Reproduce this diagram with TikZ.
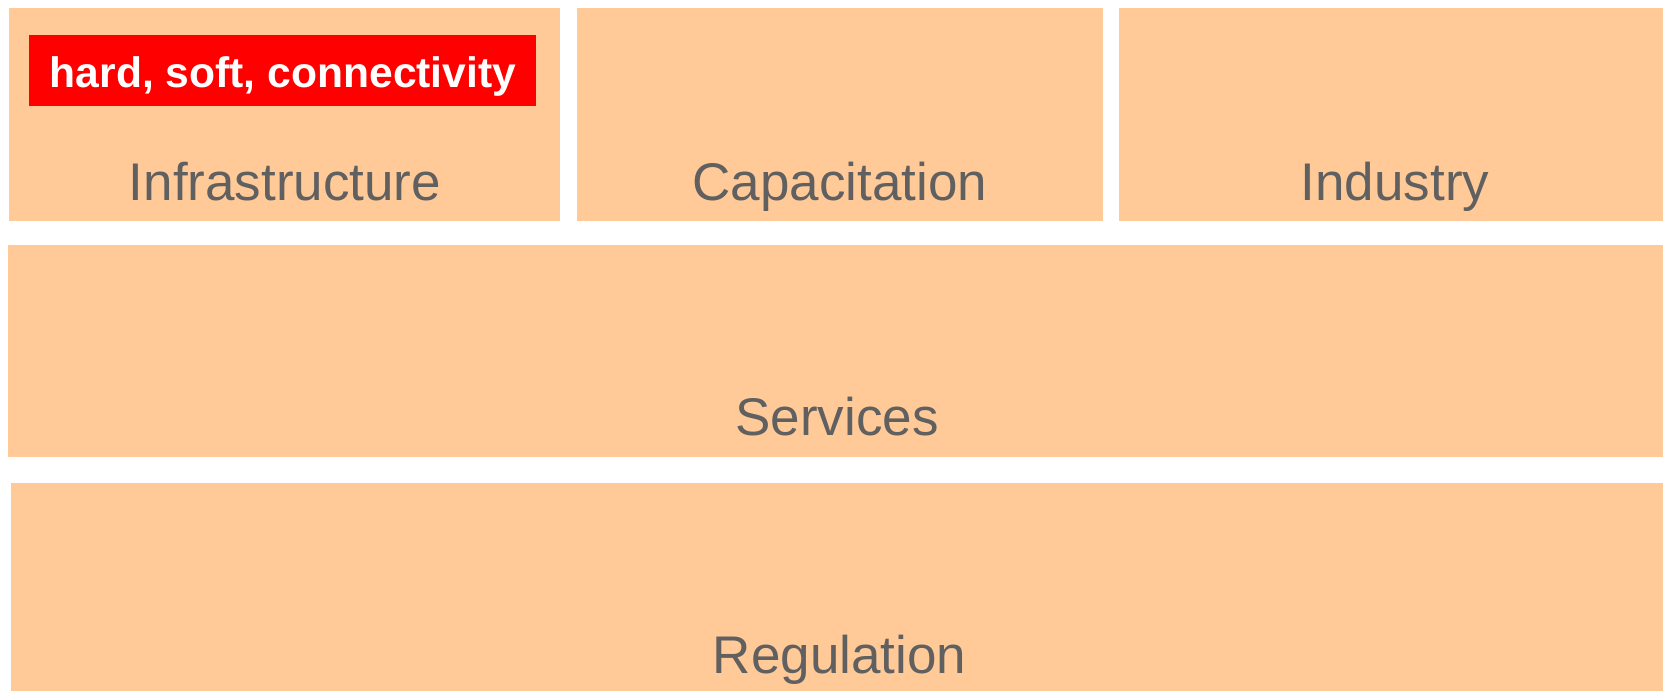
\documentclass[tikz,border=0pt]{standalone}
\usepackage{fontspec}
\setmainfont{Liberation Sans}
\definecolor{peach}{HTML}{FFCA98}
\definecolor{labelgray}{HTML}{606060}
\definecolor{tagred}{HTML}{FF0000}
\tikzset{
  tile/.style={fill=peach,inner sep=0pt,outer sep=0pt,anchor=north west},
  caption/.style={anchor=base,inner sep=0pt,text=labelgray,font=\fontsize{26.5pt}{30pt}\selectfont},
  tag/.style={fill=tagred,inner sep=0pt,outer sep=0pt,anchor=north west,minimum width=253.5pt,minimum height=35.5pt}
}
\begin{document}
\begin{tikzpicture}[x=0.5pt,y=-0.5pt]
    \useasboundingbox (0,0) rectangle (1663,690);
    \clip (0,0) rectangle (1663,690);

    \node[tile,minimum width=275.75pt,minimum height=106pt] (infra) at (8.5,8.5) {};
    \node[tile,minimum width=263pt,minimum height=106pt] (capa) at (577,8.5) {};
    \node[tile,minimum width=280pt,minimum height=106pt] (indus) at (1119,8.5) {};
    \node[tile,minimum width=836pt,minimum height=106pt] (serv) at (7.5,245) {};
    \node[tile,minimum width=835pt,minimum height=115pt] (regul) at (10.5,483) {};

    \node[tag] (hsc) at (29,35) {};
    \node[anchor=base,inner sep=0pt,text=white,font=\fontsize{21.3pt}{24pt}\selectfont\bfseries] (hsctext) at (283,87.5) {hard, soft, connectivity};

    \node[caption] (infratext) at (285,200.5) {Infrastructure};
    \node[caption] (capatext) at (840,200.5) {Capacitation};
    \node[caption] (industext) at (1395,200.5) {Industry};
    \node[caption] (servtext) at (837,435) {Services};
    \node[caption] (regultext) at (839.5,673) {Regulation};
\end{tikzpicture}
\end{document}
